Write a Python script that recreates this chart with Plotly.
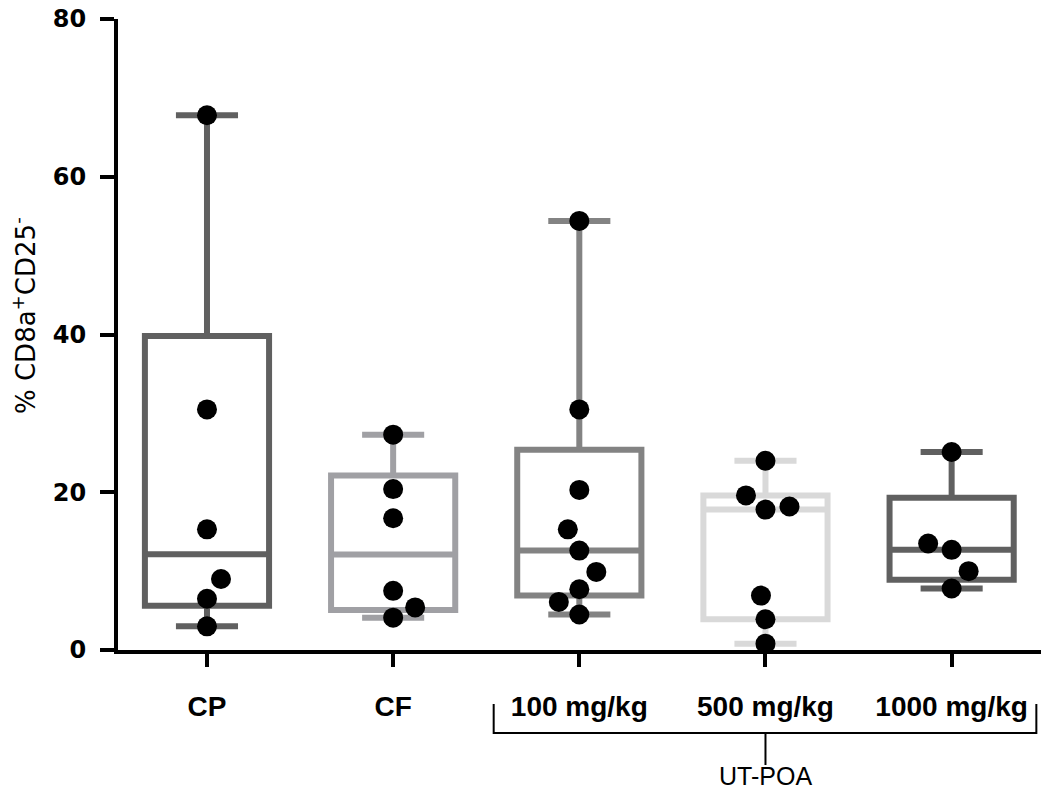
import numpy as np
import plotly.graph_objects as go

# ---------------- data ----------------
categories = ["CP", "CF", "100 mg/kg", "500 mg/kg", "1000 mg/kg"]
cp_vals = [67.8, 30.5, 15.3, 9.0, 6.5, 3.0]
cf_vals = [27.3, 20.4, 16.7, 7.5, 5.4, 4.1]
d100_vals = [54.4, 30.5, 20.3, 15.3, 12.6, 9.9, 7.7, 6.1, 4.5]
d500_vals = [24.0, 19.6, 18.2, 17.8, 6.9, 3.9, 0.8]
d1000_vals = [25.1, 13.5, 12.7, 10.0, 7.8]
group_values = [cp_vals, cf_vals, d100_vals, d500_vals, d1000_vals]
box_colors = ["#606060", "#a0a0a4", "#838383", "#d9d9d9", "#606060"]
y_ticks = [0, 20, 40, 60, 80]
bracket_label = "UT-POA"
y_title = "% CD8a<sup>+</sup>CD25<sup>-</sup>"

# ---------------- geometry helpers ----------------
# body margin is removed (post_script), so figure pixels == page pixels
W, H = 1041, 791
PLOT_LEFT = 118
PLOT_TOP = 19
PLOT_BOTTOM = 650
M_L, M_R, M_T = PLOT_LEFT, 0, PLOT_TOP
M_B = H - PLOT_BOTTOM
X_RANGE = [-0.478, 4.48]
Y_RANGE = [0, 80]
plot_w = W - M_L - M_R
plot_h = H - M_T - M_B
px_per_x = plot_w / (X_RANGE[1] - X_RANGE[0])
px_per_y = plot_h / (Y_RANGE[1] - Y_RANGE[0])
MARKER = 20


def swarm_offsets(vals, min_dist=24.0):
    """Simple beeswarm: horizontal offsets (data units) so dots don't overlap."""
    placed = []
    offs = [0.0] * len(vals)
    order = sorted(range(len(vals)), key=lambda i: vals[i])
    cands = [0.0]
    for k in range(1, 400):
        cands += [k * 0.5, -k * 0.5] if k % 2 == 0 else [-k * 0.5, k * 0.5]
    for i in order:
        y = vals[i] * px_per_y
        for dx in cands:
            if all((dx - px) ** 2 + (y - py) ** 2 >= min_dist ** 2 for px, py in placed):
                break
        placed.append((dx, y))
        offs[i] = dx / px_per_x
    return offs


arial = "Liberation Sans, Arial, Helvetica, sans-serif"
wide = "DejaVu Sans, Verdana, sans-serif"
fig = go.Figure()

for i, (vals, col) in enumerate(zip(group_values, box_colors)):
    q1, med, q3 = np.percentile(vals, [25, 50, 75], method="weibull")
    fig.add_trace(go.Box(
        x=[i], q1=[q1], median=[med], q3=[q3],
        lowerfence=[min(vals)], upperfence=[max(vals)],
        width=0.667, whiskerwidth=0.5,
        line=dict(color=col, width=6),
        fillcolor="rgba(255,255,255,0)",
        boxpoints=False, showlegend=False, hoverinfo="skip",
    ))

for i, vals in enumerate(group_values):
    offs = swarm_offsets(vals)
    fig.add_trace(go.Scatter(
        x=[i + o for o in offs], y=vals, mode="markers",
        marker=dict(color="black", size=MARKER, line=dict(width=0)),
        cliponaxis=False, showlegend=False, hoverinfo="skip",
    ))


# helpers converting page pixel positions to paper coordinates
def ypaper(pix):
    return (PLOT_BOTTOM - pix) / plot_h


def xpaper(pix):
    return (pix - PLOT_LEFT) / plot_w


# bracket under the UT-POA groups
bx0, bx1, bxc = 2 - 0.46, 4 + 0.455, 3
y_top, y_bar, y_stem = ypaper(704), ypaper(733), ypaper(765)
line_style = dict(color="black", width=2)
fig.add_shape(type="path",
              path=f"M {bx0} {y_top} L {bx0} {y_bar} L {bx1} {y_bar} L {bx1} {y_top}",
              xref="x", yref="paper", line=line_style)
fig.add_shape(type="line", x0=bxc, x1=bxc, y0=y_bar, y1=y_stem,
              xref="x", yref="paper", line=line_style)
fig.add_annotation(x=bxc, y=ypaper(776), xref="x", yref="paper",
                   text=bracket_label, showarrow=False, yanchor="middle",
                   font=dict(family=arial, size=25, color="black"))

# y-axis title
fig.add_annotation(x=xpaper(24), y=ypaper(316), xref="paper", yref="paper",
                   text=y_title, textangle=-90, showarrow=False,
                   xanchor="center", yanchor="middle",
                   font=dict(family=wide, size=26, color="black"))

fig.update_layout(
    width=W, height=H,
    margin=dict(l=M_L, r=M_R, t=M_T, b=M_B),
    plot_bgcolor="white", paper_bgcolor="white",
    boxmode="overlay",
    font=dict(family=arial, color="black"),
    xaxis=dict(
        range=X_RANGE, tickmode="array", tickvals=list(range(len(categories))),
        ticktext=categories, showgrid=False, zeroline=False,
        showline=True, linecolor="black", linewidth=4,
        ticks="outside", ticklen=13, tickwidth=4, tickcolor="black",
        tickfont=dict(family=arial, size=28, color="black", weight="bold"),
        ticklabelstandoff=15,
    ),
    yaxis=dict(
        range=Y_RANGE, tickmode="array", tickvals=y_ticks,
        showgrid=False, zeroline=False,
        showline=True, linecolor="black", linewidth=4,
        ticks="outside", ticklen=14, tickwidth=4, tickcolor="black",
        tickfont=dict(family=wide, size=24, color="black", weight="bold"),
        ticklabelstandoff=9, ticklabeloverflow="allow",
    ),
)

fig.write_html("out.html",
               config={"displayModeBar": False},
               post_script="document.body.style.margin='0px';"
                           "document.body.style.overflow='hidden';")
